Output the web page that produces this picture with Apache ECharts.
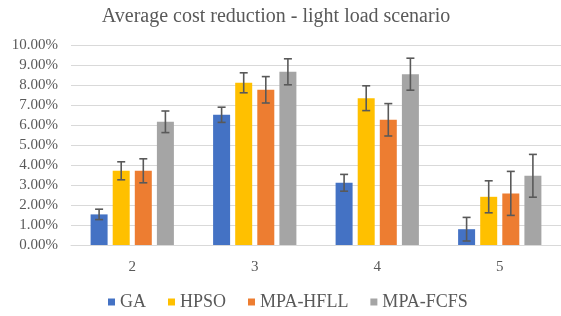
<!DOCTYPE html>
<html>
<head>
<meta charset="utf-8">
<script src="https://cdn.jsdelivr.net/npm/echarts@6/dist/echarts.min.js"></script>
<style>
  html, body { margin: 0; padding: 0; background: #fff; }
  #chart { width: 561px; height: 316px; }
</style>
</head>
<body>
<div id="chart"></div>
<script>
// categories (number of ... per scenario)
var categories = ['2', '3', '4', '5'];
var seriesNames = ['GA', 'HPSO', 'MPA-HFLL', 'MPA-FCFS'];
var colors = ['#4472C4', '#FFC000', '#ED7D31', '#A5A5A5'];

// mean values (%)
var gaValues = [1.53, 6.51, 3.11, 0.79];
var hpsoValues = [3.71, 8.11, 7.34, 2.41];
var hfllValues = [3.71, 7.76, 6.26, 2.58];
var fcfsValues = [6.16, 8.66, 8.54, 3.46];

// error bar half widths (%)
var gaErrors = [0.26, 0.38, 0.42, 0.59];
var hpsoErrors = [0.45, 0.50, 0.62, 0.80];
var hfllErrors = [0.60, 0.66, 0.81, 1.10];
var fcfsErrors = [0.54, 0.65, 0.80, 1.07];

var yTicks = [0, 1, 2, 3, 4, 5, 6, 7, 8, 9, 10];

var allValues = [gaValues, hpsoValues, hfllValues, fcfsValues];
var allErrors = [gaErrors, hpsoErrors, hfllErrors, fcfsErrors];

var BAR_W = 17;
var BAR_GAP = 0.3; // relative to bar width
var FONT = '"Liberation Serif", "Times New Roman", serif';
var TEXT_COLOR = '#595959';

var chart = echarts.init(document.getElementById('chart'));

// bar series
var series = seriesNames.map(function (name, i) {
  return {
    name: name,
    type: 'bar',
    data: allValues[i],
    barWidth: BAR_W,
    barGap: (BAR_GAP * 100) + '%',
    itemStyle: { color: colors[i] },
    z: 2
  };
});

// error bars drawn with a custom series
var errData = [];
for (var s = 0; s < seriesNames.length; s++) {
  for (var c = 0; c < categories.length; c++) {
    errData.push([c, allValues[s][c] - allErrors[s][c], allValues[s][c] + allErrors[s][c], s]);
  }
}
series.push({
  type: 'custom',
  name: 'error',
  data: errData,
  z: 10,
  silent: true,
  renderItem: function (params, api) {
    var cat = api.value(0);
    var idx = api.value(3);
    var lo = api.coord([cat, api.value(1)]);
    var hi = api.coord([cat, api.value(2)]);
    var step = BAR_W * (1 + BAR_GAP);
    var off = (idx - (seriesNames.length - 1) / 2) * step;
    var x = lo[0] + off;
    var half = 4;
    var style = { stroke: '#595959', lineWidth: 1.6 };
    return {
      type: 'group',
      children: [
        { type: 'line', shape: { x1: x, y1: lo[1], x2: x, y2: hi[1] }, style: style },
        { type: 'line', shape: { x1: x - half, y1: hi[1], x2: x + half, y2: hi[1] }, style: style },
        { type: 'line', shape: { x1: x - half, y1: lo[1], x2: x + half, y2: lo[1] }, style: style }
      ]
    };
  }
});

var option = {
  animation: false,
  title: {
    text: 'Average cost reduction - light load scenario',
    left: 271,
    textAlign: 'center',
    top: 2,
    textStyle: { fontFamily: FONT, fontSize: 20, fontWeight: 'normal', color: TEXT_COLOR }
  },
  legend: {
    data: seriesNames,
    top: 288,
    left: 103,
    icon: 'rect',
    itemWidth: 7,
    itemHeight: 7,
    itemGap: 22,
    textStyle: { fontFamily: FONT, fontSize: 18, color: TEXT_COLOR, padding: [0, 0, 0, 0] }
  },
  grid: {
    left: 71,
    top: 45,
    width: 491,
    height: 200
  },
  xAxis: {
    type: 'category',
    data: categories,
    axisTick: { show: false },
    axisLine: { lineStyle: { color: '#D9D9D9', width: 1 } },
    axisLabel: { fontFamily: FONT, fontSize: 15, color: TEXT_COLOR, margin: 15 }
  },
  yAxis: {
    type: 'value',
    min: yTicks[0],
    max: yTicks[yTicks.length - 1],
    interval: 1,
    axisLine: { show: false },
    axisTick: { show: false },
    splitLine: { lineStyle: { color: '#D9D9D9', width: 1 } },
    axisLabel: {
      fontFamily: FONT, fontSize: 15, color: TEXT_COLOR, margin: 13,
      formatter: function (v) { return v.toFixed(2) + '%'; }
    }
  },
  series: series
};

chart.setOption(option);
</script>
</body>
</html>
